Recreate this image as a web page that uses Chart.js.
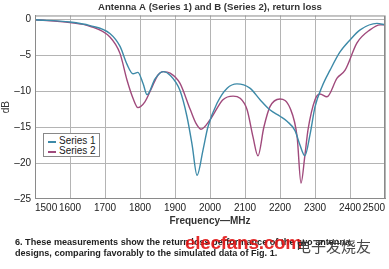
<!DOCTYPE html>
<html lang="en">
<head>
<meta charset="UTF-8">
<title>Antenna return loss</title>
<script src="https://cdn.jsdelivr.net/npm/chart.js"></script>
<style>
  body { margin: 0; background: #fff; }
  #wrap { position: relative; width: 389px; height: 269px; overflow: hidden; }
  #legend { position: absolute; left: 43px; top: 133px; width: 55px; height: 22px;
    border: 1px solid #888; background: #fff; font: 10px "Liberation Sans", Arial, sans-serif; color: #222; }
  #legend div { position: absolute; left: 15px; line-height: 10px; }
  #legend span { position: absolute; left: -11px; top: 5px; width: 8px; height: 1.5px; }
  #caption { position: absolute; left: 15px; top: 237px; font: bold 9.1px "Liberation Sans", Arial, sans-serif;
    color: #222; line-height: 10.5px; white-space: nowrap; }
  #wm1 { position: absolute; left: 185px; top: 232px; font: bold 19px "Liberation Sans", Arial, sans-serif;
    color: rgba(225, 20, 20, 0.9); letter-spacing: -0.3px; }
  #wm2 { position: absolute; left: 296px; top: 235px; font: 15px "Noto Sans CJK SC", sans-serif; color: rgba(40,40,40,0.85); }
</style>
</head>
<body>
<div id="wrap">
  <canvas id="myChart" width="389" height="269"></canvas>
  <div id="legend">
    <div style="top:2px"><span style="background:#3d8aa8"></span>Series 1</div>
    <div style="top:12px"><span style="background:#a04a7c"></span>Series 2</div>
  </div>
  <div id="caption">6. These measurements show the return loss performance of the two antenna<br>designs, comparing favorably to the simulated data of Fig. 1.</div>
  <div id="wm1">elecfans.com</div>
  <div id="wm2">电子发烧友</div>
</div>
<script>
  // Series 1 (antenna A)
  const freq1 = [1500, 1600, 1657, 1714, 1743, 1763, 1780, 1794, 1809, 1820, 1843, 1866, 1886, 1914, 1934, 1949, 1963,
    1980, 1994, 2020, 2049, 2077, 2114, 2143, 2171, 2200, 2220, 2243, 2257, 2271, 2286, 2300, 2320, 2343, 2371,
    2400, 2429, 2477, 2500];
  const db1 = [-0.1, -0.4, -0.9, -2.0, -3.8, -6.3, -7.6, -7.4, -9.0, -10.5, -8.3, -7.3, -7.8, -9.9, -13.5, -17.5, -21.7,
    -18.2, -15.0, -11.7, -9.6, -9.0, -9.6, -11.2, -12.6, -13.5, -14.2, -15.5, -17.5, -19.0, -16.0, -12.2, -9.4, -7.1, -4.6,
    -2.9, -1.5, -0.6, -0.8];
  // Series 2 (antenna B)
  const freq2 = [1500, 1600, 1657, 1714, 1743, 1763, 1780, 1794, 1814, 1834, 1851, 1866, 1886, 1914, 1943, 1960, 1974,
    2000, 2037, 2066, 2086, 2106, 2123, 2137, 2154, 2171, 2200, 2229, 2249, 2260, 2271, 2280, 2300, 2314, 2334, 2363,
    2386, 2420, 2457, 2486, 2500];
  const db2 = [-0.1, -0.5, -1.0, -2.5, -4.8, -8.5, -11.0, -12.3, -11.5, -9.5, -7.8, -7.3, -7.5, -8.9, -12.5, -14.5, -15.3,
    -14.0, -11.2, -10.7, -11.0, -12.6, -16.4, -19.0, -15.0, -12.2, -11.1, -12.4, -16.4, -22.8, -19.0, -15.4, -11.2, -10.4,
    -10.8, -8.2, -7.1, -3.3, -1.5, -0.8, -0.8];
  const xTicks = [1500, 1600, 1700, 1800, 1900, 2000, 2100, 2200, 2300, 2400, 2500];
  const yTicks = [0, -5, -10, -15, -20, -25];

  const font = '"Liberation Sans", Arial, sans-serif';

  const boxPlugin = {
    id: 'box',
    afterDatasetsDraw(chart) {
      const {ctx, chartArea: a} = chart;
      ctx.save();
      ctx.strokeStyle = '#8a8a8a';
      ctx.lineWidth = 1;
      ctx.strokeRect(a.left + 0.5, a.top + 0.5, a.right - a.left - 1, a.bottom - a.top - 1);
      ctx.restore();
    }
  };

  new Chart(document.getElementById('myChart'), {
    type: 'line',
    data: {
      datasets: [{
        label: 'Series 1',
        data: freq1.map((f, i) => ({x: f, y: db1[i]})),
        borderColor: '#3d8aa8',
        borderWidth: 1.4,
        pointRadius: 0,
        cubicInterpolationMode: 'monotone',
        fill: false
      }, {
        label: 'Series 2',
        data: freq2.map((f, i) => ({x: f, y: db2[i]})),
        borderColor: '#a04a7c',
        borderWidth: 1.4,
        pointRadius: 0,
        cubicInterpolationMode: 'monotone',
        fill: false
      }]
    },
    options: {
      responsive: false,
      animation: false,
      layout: {padding: {left: 0, right: 4, top: 0, bottom: 40}},
      plugins: {
        legend: {display: false},
        tooltip: {enabled: false},
        title: {
          display: true,
          fullSize: false,
          text: 'Antenna A (Series 1) and B (Series 2), return loss',
          color: '#333',
          font: {family: font, size: 9.6, weight: 'bold', lineHeight: 1.3},
          padding: {top: 1, bottom: 2}
        }
      },
      scales: {
        x: {
          type: 'linear',
          min: 1500,
          max: 2500,
          afterBuildTicks: s => { s.ticks = xTicks.map(v => ({value: v})); },
          afterFit: s => { s.height = 30; },
          grid: {color: '#b4b4b4', drawTicks: false},
          border: {color: '#8a8a8a'},
          ticks: {align: 'inner', padding: 3, color: '#222', font: {family: font, size: 10}, maxRotation: 0,
            callback: v => String(v)},
          title: {display: true, text: 'Frequency\u2014MHz', color: '#333',
            font: {family: font, size: 10, weight: 'bold'}, padding: {top: 2, bottom: 2}}
        },
        y: {
          min: -25,
          max: 0.5,
          afterBuildTicks: s => { s.ticks = yTicks.map(v => ({value: v})); },
          afterFit: s => { s.width = 35; },
          grid: {color: '#b4b4b4', drawTicks: false},
          border: {color: '#8a8a8a'},
          ticks: {padding: 4, color: '#222', font: {family: font, size: 10},
            callback: v => v < 0 ? '\u2013' + Math.abs(v) : String(v)},
          title: {display: true, text: 'dB', color: '#333', font: {family: font, size: 10}, padding: 0}
        }
      }
    },
    plugins: [boxPlugin]
  });
</script>
</body>
</html>
